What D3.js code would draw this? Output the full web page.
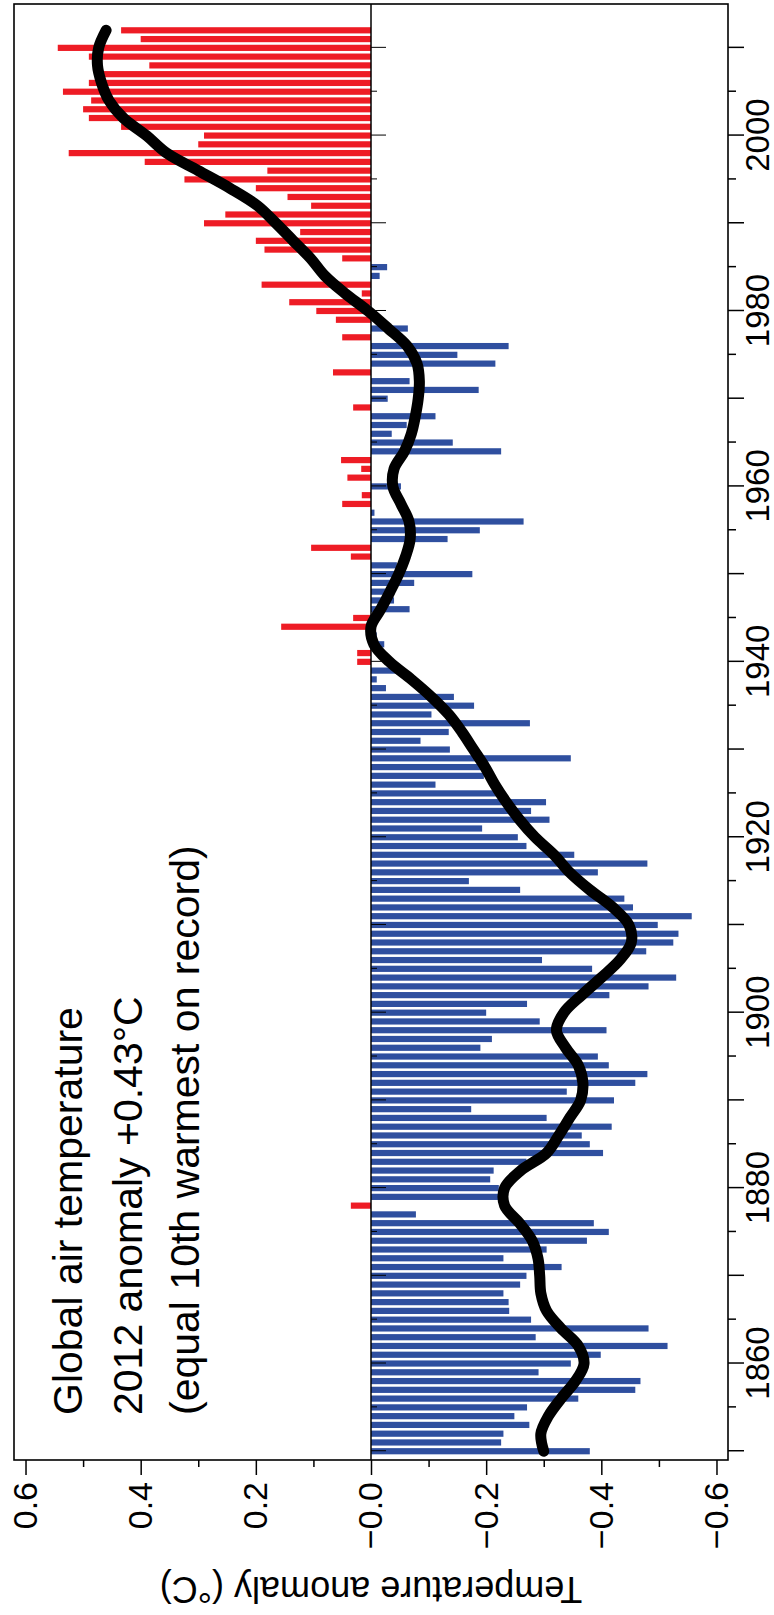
<!DOCTYPE html>
<html>
<head>
<meta charset="utf-8">
<script src="https://cdn.jsdelivr.net/npm/d3@7"></script>
<style>
  body { margin: 0; background: #fff; }
  svg { display: block; }
  text { font-family: "Liberation Sans", Arial, Helvetica, sans-serif; }
</style>
</head>
<body>
<div id="chart"></div>
<script>
// annual global anomalies 1850..2012 (deg C)
var firstYear = 1850, lastYear = 2012;
var anomalies = [
  -0.38, -0.226, -0.23, -0.275, -0.249, -0.271, -0.36, -0.459, -0.468, -0.291,   // 1850s
  -0.347, -0.399, -0.515, -0.286, -0.482, -0.278, -0.24, -0.239, -0.23, -0.259,  // 1860s
  -0.27, -0.331, -0.23, -0.305, -0.375, -0.413, -0.387, -0.078, 0.035, -0.222,   // 1870s
  -0.222, -0.207, -0.213, -0.27, -0.403, -0.38, -0.366, -0.418, -0.305, -0.174,  // 1880s
  -0.422, -0.34, -0.459, -0.48, -0.413, -0.394, -0.19, -0.21, -0.409, -0.293,    // 1890s
  -0.2, -0.271, -0.414, -0.482, -0.53, -0.384, -0.297, -0.478, -0.525, -0.534,   // 1900s
  -0.498, -0.557, -0.455, -0.44, -0.259, -0.17, -0.394, -0.48, -0.353, -0.27,    // 1910s
  -0.255, -0.193, -0.31, -0.278, -0.304, -0.217, -0.112, -0.196, -0.196, -0.347, // 1920s
  -0.137, -0.086, -0.135, -0.276, -0.105, -0.179, -0.144, -0.026, -0.01, -0.052, // 1930s
  0.024, 0.024, -0.023, -0.01, 0.156, 0.031, -0.067, -0.04, -0.03, -0.075,       // 1940s
  -0.176, -0.045, 0.035, 0.104, -0.133, -0.189, -0.265, -0.006, 0.05, 0.016,     // 1950s
  -0.052, 0.041, 0.017, 0.052, -0.226, -0.142, -0.036, -0.062, -0.112, 0.031,    // 1960s
  -0.029, -0.187, -0.067, 0.066, -0.216, -0.15, -0.239, 0.05, -0.064, 0.061,     // 1970s
  0.095, 0.142, 0.016, 0.19, -0.015, -0.028, 0.05, 0.185, 0.2, 0.123,            // 1980s
  0.29, 0.253, 0.104, 0.145, 0.2, 0.324, 0.18, 0.393, 0.525, 0.3,                // 1990s
  0.29, 0.434, 0.49, 0.5, 0.486, 0.535, 0.49, 0.477, 0.385, 0.49,                // 2000s
  0.544, 0.4, 0.434                                                              // 2010-2012
];
var years = d3.range(firstYear, lastYear + 1);

// smoothed curve
var smoothYears = [1850, 1852, 1854, 1856, 1858, 1860, 1862, 1864, 1866, 1868, 1870, 1872, 1874, 1876, 1878,
  1880, 1882, 1884, 1886, 1888, 1890, 1892, 1894, 1896, 1898, 1900, 1902, 1904, 1906, 1908, 1910, 1912, 1914,
  1916, 1918, 1920, 1922, 1924, 1926, 1928, 1930, 1932, 1934, 1936, 1938, 1940, 1942, 1944, 1946, 1948, 1950,
  1952, 1954, 1956, 1958, 1960, 1962, 1964, 1966, 1968, 1970, 1972, 1974, 1976, 1978, 1980, 1982, 1984, 1986,
  1988, 1990, 1992, 1994, 1996, 1998, 2000, 2002, 2004, 2006, 2008, 2010, 2012];
var smoothValues = [-0.30, -0.295, -0.308, -0.33, -0.355, -0.37, -0.36, -0.33, -0.305, -0.295, -0.293, -0.29,
  -0.28, -0.258, -0.232, -0.232, -0.26, -0.305, -0.326, -0.345, -0.364, -0.368, -0.36, -0.338, -0.322, -0.335,
  -0.366, -0.40, -0.432, -0.452, -0.448, -0.42, -0.38, -0.345, -0.318, -0.285, -0.258, -0.235, -0.215, -0.198,
  -0.178, -0.158, -0.135, -0.105, -0.07, -0.032, -0.005, 0.0, -0.017, -0.033, -0.048, -0.06, -0.068, -0.066,
  -0.052, -0.038, -0.04, -0.058, -0.07, -0.077, -0.082, -0.084, -0.08, -0.063, -0.03, 0.005, 0.045, 0.08,
  0.105, 0.135, 0.165, 0.197, 0.245, 0.30, 0.355, 0.39, 0.43, 0.455, 0.468, 0.475, 0.473, 0.46];

var yTicks = [0.6, 0.4, 0.2, 0, -0.2, -0.4, -0.6];
var yTickLabels = ["0.6", "0.4", "0.2", "\u22120.0", "\u22120.2", "\u22120.4", "\u22120.6"];
var yMinorTicks = [0.5, 0.3, 0.1, -0.1, -0.3, -0.5];
var xMajorTicks = d3.range(1850, 2011, 10);
var xMinorTicks = d3.range(1855, 2011, 10);
var titleLines = ["Global air temperature", "2012 anomaly +0.43\u00b0C", "(equal 10th warmest on record)"];
var yAxisTitle = "Temperature anomaly (\u00b0C)";

// the chart is drawn landscape, then turned a quarter turn to fit the page
var pageW = 774, pageH = 1615;
var margin = {top: 14, right: 4, bottom: 46, left: 155},
    width = pageH - margin.left - margin.right,
    height = pageW - margin.top - margin.bottom;

var svg = d3.select("#chart")
  .append("svg")
    .attr("width", pageW)
    .attr("height", pageH)
  .append("g")
    .attr("transform", "translate(0," + pageH + ") rotate(-90)")
  .append("g")
    .attr("transform", "translate(" + margin.left + "," + margin.top + ")");

var x = d3.scaleLinear().domain([1849, 2015]).range([0, width]);
var y = d3.scaleLinear().domain([-0.62, 0.62]).range([height, 0]);

var barW = 6.2;
svg.selectAll(".bar")
  .data(years)
  .enter()
  .append("rect")
    .attr("class", "bar")
    .attr("x", function(d) { return x(d) - barW / 2; })
    .attr("width", barW)
    .attr("y", function(d, i) { return y(Math.max(anomalies[i], 0)); })
    .attr("height", function(d, i) { return Math.abs(y(anomalies[i]) - y(0)); })
    .attr("fill", function(d, i) { return anomalies[i] > 0 ? "#ee1c25" : "#2f4f9f"; });

// zero line with its own ticks
svg.append("line")
  .attr("x1", 0).attr("x2", width)
  .attr("y1", y(0)).attr("y2", y(0))
  .attr("stroke", "#000").attr("stroke-width", 1.5);

svg.append("g")
  .attr("transform", "translate(0," + y(0) + ")")
  .call(d3.axisBottom(x).tickValues(xMajorTicks).tickSize(15).tickFormat(""))
  .call(function(g) { g.select(".domain").remove(); });
svg.append("g")
  .attr("transform", "translate(0," + y(0) + ")")
  .call(d3.axisBottom(x).tickValues(xMinorTicks).tickSize(6).tickFormat(""))
  .call(function(g) { g.select(".domain").remove(); });

// smoothed curve
var line = d3.line()
  .x(function(d, i) { return x(smoothYears[i]); })
  .y(function(d) { return y(d); })
  .curve(d3.curveCatmullRom);

svg.append("path")
  .datum(smoothValues)
  .attr("d", line)
  .attr("fill", "none")
  .attr("stroke", "#000")
  .attr("stroke-width", 11)
  .attr("stroke-linecap", "round")
  .attr("stroke-linejoin", "round");

// frame
svg.append("rect")
  .attr("width", width).attr("height", height)
  .attr("fill", "none")
  .attr("stroke", "#000").attr("stroke-width", 1.6);

// year axis (right side of page)
var xAxis = svg.append("g")
  .attr("transform", "translate(0," + height + ")")
  .call(d3.axisBottom(x).tickValues(xMajorTicks).tickSize(16).tickPadding(2)
    .tickFormat(function(d) { return d % 20 === 0 ? d : ""; }));
xAxis.select(".domain").remove();
xAxis.selectAll("text").style("font-size", "33px").attr("fill", "#000");
xAxis.selectAll("line").attr("stroke-width", 1.5);

svg.append("g")
  .attr("transform", "translate(0," + height + ")")
  .call(d3.axisBottom(x).tickValues(xMinorTicks).tickSize(8).tickFormat(""))
  .call(function(g) { g.select(".domain").remove(); g.selectAll("line").attr("stroke-width", 1.5); });

// anomaly axis (bottom of page)
var yAxis = svg.append("g")
  .call(d3.axisLeft(y).tickValues(yTicks).tickSize(15).tickPadding(7)
    .tickFormat(function(d, i) { return yTickLabels[i]; }));
yAxis.select(".domain").remove();
yAxis.selectAll("text").style("font-size", "34px").attr("fill", "#000");
yAxis.selectAll("line").attr("stroke-width", 1.5);

svg.append("g")
  .call(d3.axisLeft(y).tickValues(yMinorTicks).tickSize(7).tickFormat(""))
  .call(function(g) { g.select(".domain").remove(); g.selectAll("line").attr("stroke-width", 1.5); });

svg.append("text")
  .attr("transform", "translate(-117," + y(0) + ") rotate(-90)")
  .attr("text-anchor", "middle")
  .style("font-size", "36px")
  .text(yAxisTitle);

// caption inside the plot
var titleBase = [68, 128, 185];
svg.selectAll(".title")
  .data(titleLines)
  .enter()
  .append("text")
    .attr("class", "title")
    .attr("x", 45)
    .attr("y", function(d, i) { return titleBase[i]; })
    .style("font-size", "41px")
    .text(function(d) { return d; });
</script>
</body>
</html>
